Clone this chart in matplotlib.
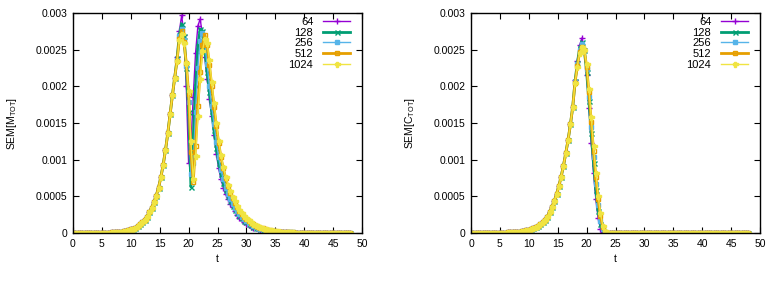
import numpy as np
import matplotlib
matplotlib.use("Agg")
import matplotlib.pyplot as plt

plt.rcParams['font.family'] = ['Liberation Sans', 'DejaVu Sans']
plt.rcParams['mathtext.default'] = 'regular'

# sampling grid of the time axis (t = 0 ... 48, step 0.4)
t = np.round(np.arange(0, 48.0001, 0.4), 2)

labels = ["64", "128", "256", "512", "1024"]
colors = ["#9400D3", "#009E73", "#56B4E9", "#E69F00", "#F0E442"]
markers = ["+", "x", "s", "s", "P"]
linewidths = [1.0, 2.0, 1.0, 2.0, 1.0]

# ---------- left panel: SEM[M_TOT], values in units of 1e-4 ----------
rise_M = [0.00, 0.00, 0.00, 0.00, 0.01, 0.01, 0.01, 0.01, 0.01, 0.02,
          0.02, 0.02, 0.03, 0.03, 0.04, 0.05, 0.06, 0.08, 0.10, 0.12,
          0.15, 0.19, 0.24, 0.30, 0.38, 0.48, 0.60, 0.75, 0.94, 1.17,
          1.45, 1.80, 2.25, 2.80, 3.45, 4.20, 5.10, 6.20, 7.60, 9.30,
          11.3, 13.6, 16.2, 18.8, 21.2]

mid_M_64 = [24.0, 27.5, 29.7, 27.0, 20.0, 9.5, 12.0, 18.5, 24.5, 28.2, 29.2,
            27.0, 24.0, 21.0, 18.3, 16.0, 13.3, 10.8, 8.8, 7.3, 6.2,
            5.3, 4.6, 4.0, 3.5, 3.0, 2.5, 2.1, 1.8, 1.5, 1.25,
            1.05, 0.88, 0.74, 0.62, 0.52, 0.44, 0.37, 0.31, 0.26, 0.22,
            0.18, 0.15, 0.13, 0.11, 0.09, 0.08, 0.07, 0.06, 0.05, 0.05]
mid_M_128 = [23.8, 27.0, 28.5, 26.8, 22.5, 16.5, 6.3, 13.0, 20.0, 25.5, 27.8,
             27.6, 25.0, 22.0, 19.2, 16.6, 14.0, 11.6, 9.6, 8.0, 6.8,
             5.8, 5.0, 4.3, 3.7, 3.2, 2.75, 2.35, 2.0, 1.7, 1.45,
             1.23, 1.04, 0.88, 0.75, 0.63, 0.53, 0.45, 0.38, 0.32, 0.27,
             0.23, 0.19, 0.16, 0.14, 0.12, 0.10, 0.09, 0.08, 0.07, 0.06]
mid_M_256 = [23.6, 26.8, 27.8, 26.3, 22.8, 17.8, 8.0, 9.5, 16.5, 22.5, 26.2,
             27.3, 25.8, 23.0, 20.0, 17.3, 14.8, 12.4, 10.3, 8.6, 7.3,
             6.2, 5.35, 4.6, 4.0, 3.45, 3.0, 2.55, 2.2, 1.88, 1.6,
             1.37, 1.16, 0.99, 0.84, 0.71, 0.60, 0.51, 0.43, 0.36, 0.31,
             0.26, 0.22, 0.19, 0.16, 0.13, 0.11, 0.10, 0.09, 0.08, 0.07]
mid_M_512 = [23.5, 26.5, 27.5, 26.0, 23.2, 19.0, 11.0, 7.0, 11.8, 17.3, 22.0,
             25.6, 27.0, 25.6, 22.9, 20.0, 17.2, 14.6, 12.3, 10.3, 8.8,
             7.5, 6.4, 5.5, 4.75, 4.1, 3.55, 3.05, 2.6, 2.25, 1.92,
             1.64, 1.40, 1.20, 1.02, 0.87, 0.74, 0.63, 0.53, 0.45, 0.38,
             0.32, 0.27, 0.23, 0.19, 0.16, 0.14, 0.12, 0.10, 0.09, 0.08]
mid_M_1024 = [23.4, 26.3, 27.2, 25.9, 23.2, 19.3, 12.5, 7.3, 10.5, 16.0, 21.0,
              24.8, 26.5, 25.9, 23.6, 20.6, 17.7, 15.0, 12.6, 10.6, 9.0,
              7.7, 6.6, 5.7, 4.9, 4.3, 3.7, 3.2, 2.75, 2.35, 2.0,
              1.72, 1.47, 1.26, 1.08, 0.92, 0.79, 0.67, 0.57, 0.48, 0.41,
              0.35, 0.30, 0.25, 0.21, 0.18, 0.15, 0.13, 0.11, 0.09, 0.08]
tail_M = [0.06, 0.05, 0.05, 0.04, 0.04, 0.03, 0.03, 0.03, 0.02, 0.02,
          0.02, 0.02, 0.02, 0.01, 0.01, 0.01, 0.01, 0.01, 0.01, 0.01,
          0.01, 0.01, 0.01, 0.01, 0.01]

# ---------- right panel: SEM[C_TOT], values in units of 1e-4 ----------
rise_C = [0.00, 0.00, 0.00, 0.00, 0.01, 0.01, 0.01, 0.01, 0.02, 0.02,
          0.02, 0.03, 0.03, 0.04, 0.05, 0.06, 0.07, 0.09, 0.11, 0.13,
          0.16, 0.20, 0.25, 0.31, 0.38, 0.46, 0.56, 0.68, 0.82, 0.98,
          1.18, 1.45, 1.80, 2.25, 2.85, 3.55, 4.35, 5.30, 6.40, 7.70,
          9.20, 10.9, 12.7, 14.8, 17.2]
mid_C_64 = [20.8, 23.4, 25.6, 26.6, 25.0, 21.5, 17.0, 12.3, 8.2, 4.6,
            2.0, 0.6, 0.1, 0.02, 0.0, 0.0, 0.0, 0.0]
mid_C_128 = [20.7, 23.2, 25.2, 26.0, 25.0, 22.0, 18.0, 13.6, 9.5, 5.8,
             3.0, 1.2, 0.3, 0.05, 0.0, 0.0, 0.0, 0.0]
mid_C_256 = [20.6, 23.0, 25.0, 25.8, 25.0, 22.4, 18.6, 14.4, 10.4, 6.7,
             3.8, 1.7, 0.5, 0.1, 0.01, 0.0, 0.0, 0.0]
mid_C_512 = [20.5, 22.8, 24.7, 25.4, 24.9, 22.7, 19.2, 15.2, 11.2, 7.6,
             4.6, 2.3, 0.8, 0.2, 0.03, 0.0, 0.0, 0.0]
mid_C_1024 = [20.5, 22.7, 24.6, 25.3, 25.0, 23.0, 19.7, 15.8, 11.8, 8.2,
              5.1, 2.7, 1.0, 0.3, 0.05, 0.0, 0.0, 0.0]
tail_C = [0.0] * 58

M_series = [rise_M + m + tail_M for m in [mid_M_64, mid_M_128, mid_M_256, mid_M_512, mid_M_1024]]
C_series = [rise_C + m + tail_C for m in [mid_C_64, mid_C_128, mid_C_256, mid_C_512, mid_C_1024]]

xticks = [0, 5, 10, 15, 20, 25, 30, 35, 40, 45, 50]
yticks = [0, 0.0005, 0.001, 0.0015, 0.002, 0.0025, 0.003]
ytick_labels = ["0", "0.0005", "0.001", "0.0015", "0.002", "0.0025", "0.003"]

W, H = 778, 284
fig = plt.figure(figsize=(W / 100, H / 100), dpi=100)
fs = 7.5

ax1 = fig.add_axes([73 / W, 1 - 233 / H, 289 / W, 220 / H])
ax2 = fig.add_axes([471 / W, 1 - 233 / H, 289 / W, 220 / H])

msizes = [4.2, 3.6, 2.6, 3.4, 3.6]


def style(ax, ylabel, series):
    for i, ys in enumerate(series):
        mfc = 'none' if i == 3 else colors[i]
        ax.plot(t, np.array(ys) * 1e-4, color=colors[i], lw=linewidths[i],
                marker=markers[i], markersize=msizes[i],
                markeredgewidth=1.0, markerfacecolor=mfc, label=labels[i])
    ax.set_xlim(0, 50)
    ax.set_ylim(0, 0.003)
    ax.set_xticks(xticks)
    ax.set_xticklabels([str(v) for v in xticks], fontsize=fs)
    ax.set_yticks(yticks)
    ax.set_yticklabels(ytick_labels, fontsize=fs)
    ax.tick_params(direction='in', top=True, right=True, length=4, width=0.8,
                   pad=4)
    for s in ax.spines.values():
        s.set_linewidth(1.0)
    ax.set_xlabel("t", fontsize=fs, labelpad=4)
    ax.set_ylabel(ylabel, fontsize=fs, labelpad=12)
    leg = ax.legend(loc='upper right', bbox_to_anchor=(1 - 12 / 289, 1 - 4 / 220),
                    frameon=False, markerfirst=False, numpoints=1, fontsize=8,
                    handlelength=2.4, handletextpad=0.9, labelspacing=0.06,
                    borderpad=0, borderaxespad=0)
    for col in leg._legend_box._children[1]._children:
        col.align = 'right'


style(ax1, "SEM[M$_{TOT}$]", M_series)
style(ax2, "SEM[C$_{TOT}$]", C_series)

fig.savefig("out.png", dpi=100)
